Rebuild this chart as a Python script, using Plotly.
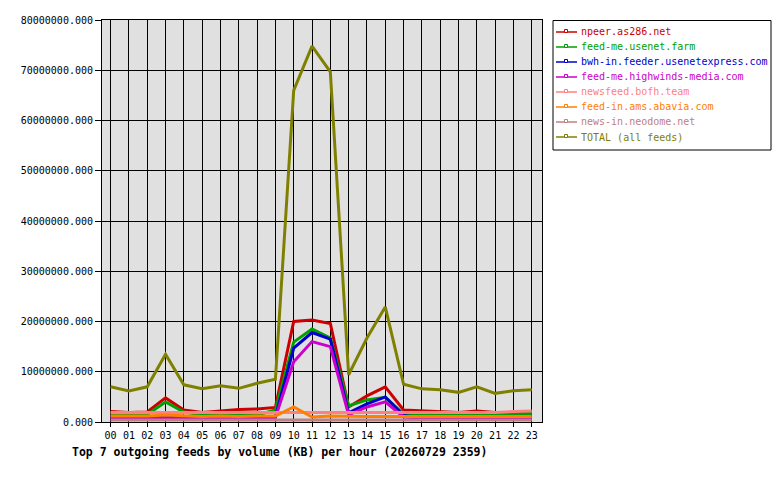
import plotly.graph_objects as go

# hours of the day
hours = ["00", "01", "02", "03", "04", "05", "06", "07", "08", "09", "10", "11",
         "12", "13", "14", "15", "16", "17", "18", "19", "20", "21", "22", "23"]

# KB per hour, in millions
npeer = [2.1, 1.9, 2.0, 4.8, 2.4, 1.9, 2.2, 2.5, 2.6, 2.9, 20.0, 20.3,
         19.6, 3.0, 5.2, 7.0, 2.4, 2.2, 2.0, 1.9, 2.2, 1.9, 1.8, 1.8]
usenet_farm = [1.4, 1.4, 1.5, 4.0, 2.0, 1.4, 1.4, 1.4, 1.4, 2.4, 15.9, 18.5,
               16.7, 3.2, 4.4, 4.9, 1.6, 1.5, 1.5, 1.5, 1.5, 1.5, 1.6, 1.7]
usenetexpress = [0.9, 0.9, 0.9, 1.2, 0.9, 0.9, 0.9, 0.9, 0.9, 1.0, 14.7, 17.8,
                 16.5, 1.8, 3.6, 5.0, 1.3, 0.8, 0.8, 0.8, 1.0, 0.8, 0.8, 0.8]
highwinds = [0.8, 0.8, 0.8, 0.9, 0.8, 0.8, 0.8, 0.8, 0.8, 0.9, 12.0, 16.0,
             15.0, 1.4, 3.0, 4.0, 1.0, 0.8, 0.8, 0.8, 0.8, 0.8, 0.8, 0.8]
bofh = [1.9, 1.9, 1.9, 1.9, 1.9, 1.9, 1.9, 1.9, 1.9, 1.8, 1.8, 1.8,
        1.8, 1.9, 1.9, 1.9, 1.9, 1.9, 1.9, 1.9, 1.9, 1.9, 2.1, 2.2]
abavia = [1.2, 1.2, 1.2, 1.4, 1.2, 1.1, 1.2, 1.1, 1.2, 1.2, 3.0, 1.0,
          1.2, 1.1, 1.1, 1.1, 1.1, 1.2, 1.2, 1.2, 1.2, 1.1, 1.1, 1.1]
neodome = [0.4, 0.4, 0.4, 0.4, 0.4, 0.4, 0.4, 0.4, 0.4, 0.4, 0.4, 0.4,
           0.4, 0.4, 0.4, 0.4, 0.4, 0.4, 0.4, 0.4, 0.4, 0.4, 0.4, 0.4]
total = [7.0, 6.2, 7.0, 13.5, 7.4, 6.6, 7.2, 6.7, 7.7, 8.5, 66.0, 74.8,
         69.7, 9.4, 16.7, 22.9, 7.5, 6.6, 6.4, 5.9, 7.0, 5.7, 6.2, 6.4]

feeds = [
    ("npeer.as286.net", npeer, "#cc0000"),
    ("feed-me.usenet.farm", usenet_farm, "#00a000"),
    ("bwh-in.feeder.usenetexpress.com", usenetexpress, "#0000cc"),
    ("feed-me.highwinds-media.com", highwinds, "#cc00cc"),
    ("newsfeed.bofh.team", bofh, "#ff8080"),
    ("feed-in.ams.abavia.com", abavia, "#ff8000"),
    ("news-in.neodome.net", neodome, "#c08080"),
    ("TOTAL (all feeds)", total, "#808000"),
]

MONO = "DejaVu Sans Mono"
W, H = 780, 480
# page body adds an 8px offset; screen coords below are shifted by it
OFF = 8
L, R, T, B = 102 - OFF, W - (542 - OFF), 20 - OFF, H - (422 - OFF)
PW, PH = W - L - R, H - T - B


def px(x):
    # screen x -> paper x
    return (x - OFF - L) / PW


def py(y):
    # screen y -> paper y
    return (H - B - (y - OFF)) / PH


fig = go.Figure()

for name, vals, color in feeds:
    fig.add_trace(go.Scatter(
        x=list(range(len(hours))), y=[v * 1e6 for v in vals],
        mode="lines", line=dict(color=color, width=3),
        name=name, showlegend=False, hoverinfo="x+y+name",
    ))

# ── hand-drawn key box (rrd style: line with a small square, coloured text) ──
fig.add_shape(type="rect", xref="paper", yref="paper",
              x0=px(553), x1=px(771), y0=py(150), y1=py(20.5),
              line=dict(color="black", width=1), fillcolor="white")
for i, (name, vals, color) in enumerate(feeds):
    yc = 32 + 15 * i
    fig.add_shape(type="line", xref="paper", yref="paper",
                  x0=px(556), x1=px(577), y0=py(yc), y1=py(yc),
                  line=dict(color=color, width=1.5))
    fig.add_shape(type="rect", xref="paper", yref="paper",
                  x0=px(564.5), x1=px(567.5), y0=py(yc + 0.5), y1=py(yc - 2.5),
                  line=dict(color=color, width=1), fillcolor="white")
    fig.add_annotation(xref="paper", yref="paper", x=px(579), y=py(yc),
                       text=name, showarrow=False, xanchor="left",
                       yanchor="middle", font=dict(family=MONO, size=10, color=color))

fig.update_layout(
    width=W, height=H,
    paper_bgcolor="white", plot_bgcolor="#e0e0e0",
    margin=dict(l=L, r=R, t=T, b=B, autoexpand=False),
    font=dict(family=MONO, size=10, color="black"),
    showlegend=False,
    title=dict(
        text="<b>Top 7 outgoing feeds by volume (KB) per hour (20260729 2359)</b>",
        font=dict(family=MONO, size=11.5, color="black"),
        x=(72 - OFF) / W, xanchor="left", xref="container",
        y=1 - (452 - OFF) / H, yanchor="middle", yref="container", pad=dict(l=0),
    ),
    xaxis=dict(
        tickmode="array", tickvals=list(range(len(hours))), ticktext=hours,
        range=[-0.47, 23.56], showgrid=True, gridcolor="black", gridwidth=1,
        zeroline=False, showline=True, linecolor="black", linewidth=1,
        mirror=True, ticks="outside", ticklen=4, tickcolor="black",
        tickfont=dict(family=MONO, size=10), automargin=False,
    ),
    yaxis=dict(
        range=[0, 80e6], tickmode="linear", tick0=0, dtick=10e6,
        tickformat=".3f", showgrid=True, gridcolor="black", gridwidth=1,
        zeroline=False, showline=True, linecolor="black", linewidth=1,
        mirror=True, ticks="outside", ticklen=6, tickcolor="black",
        tickfont=dict(family=MONO, size=10), automargin=False,
    ),
)

fig.write_html("out.html")
